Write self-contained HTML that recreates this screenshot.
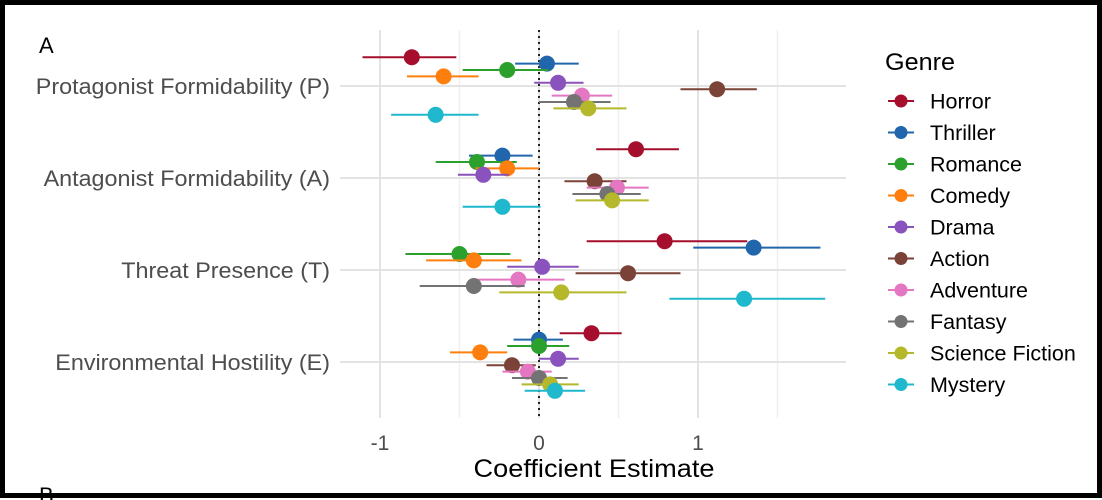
<!DOCTYPE html>
<html><head><meta charset="utf-8"><style>
html,body{margin:0;padding:0;background:#fff}
svg{display:block;font-family:"Liberation Sans",Arial,sans-serif}
</style></head><body>
<svg width="1102" height="500" viewBox="0 0 1102 500">
<rect x="0" y="0" width="1102" height="500" fill="#fff"/>
<g id="grid"></g>
<g id="ylabels"></g>
<g id="xticks"></g>
<line x1="539" y1="30" x2="539" y2="418" stroke="#222" stroke-width="2" stroke-dasharray="2,4"/>
<g id="marks"></g>
<g id="legend">
<text x="885" y="70" font-size="24" textLength="70" lengthAdjust="spacingAndGlyphs" fill="#000">Genre</text>
</g>
<text x="594" y="477" font-size="25" textLength="241" lengthAdjust="spacingAndGlyphs" fill="#000" text-anchor="middle">Coefficient Estimate</text>
<text x="39" y="53" font-size="22" fill="#000">A</text>
<text x="39" y="503" font-size="22" fill="#000">B</text>
<rect x="2.5" y="2.5" width="1097" height="493" fill="none" stroke="#000" stroke-width="5"/>
</svg>
<script>
const categories = ["Protagonist Formidability (P)","Antagonist Formidability (A)","Threat Presence (T)","Environmental Hostility (E)"];
const genres = ["Horror","Thriller","Romance","Comedy","Drama","Action","Adventure","Fantasy","Science Fiction","Mystery"];
const colors = ["#a50f2d","#2166ac","#2ca02c","#ff7f0e","#8a52bd","#7b4238","#e377c2","#737373","#b5b82a","#1fb8cc"];
const xTicks = [-1,0,1];
const xTickLabels = ["-1","0","1"];
const est = [
 [-0.80,0.05,-0.20,-0.60,0.12,1.12,0.27,0.22,0.31,-0.65],
 [0.61,-0.23,-0.39,-0.20,-0.35,0.35,0.49,0.43,0.46,-0.23],
 [0.79,1.35,-0.50,-0.41,0.02,0.56,-0.13,-0.41,0.14,1.29],
 [0.33,0.00,0.00,-0.37,0.12,-0.17,-0.07,0.00,0.07,0.10]
];
const lo = [
 [-1.11,-0.15,-0.48,-0.83,-0.03,0.89,0.08,0.00,0.09,-0.93],
 [0.36,-0.44,-0.65,-0.40,-0.51,0.16,0.30,0.21,0.23,-0.48],
 [0.30,0.97,-0.84,-0.71,-0.20,0.23,-0.43,-0.75,-0.25,0.82],
 [0.13,-0.16,-0.20,-0.56,0.00,-0.33,-0.23,-0.17,-0.11,-0.09]
];
const hi = [
 [-0.52,0.25,0.06,-0.38,0.28,1.37,0.46,0.45,0.55,-0.38],
 [0.88,-0.04,-0.14,0.00,-0.19,0.55,0.69,0.64,0.69,0.01],
 [1.31,1.77,-0.18,-0.11,0.25,0.89,0.16,-0.09,0.55,1.80],
 [0.52,0.15,0.19,-0.20,0.25,-0.02,0.08,0.18,0.25,0.29]
];
const NS="http://www.w3.org/2000/svg";
function mk(t,a,p){const e=document.createElementNS(NS,t);for(const k in a)e.setAttribute(k,a[k]);p.appendChild(e);return e;}
const X = v => 539 + v*159;
const Y = (ci,gi) => 86 + ci*92 + (gi-4.5)*6.4;
const grid=document.getElementById('grid');
[-1,-0.5,0,0.5,1,1.5].forEach(v=>{
 const l=mk('line',{x1:X(v),x2:X(v),y1:30,y2:418,stroke:v%1===0?'#e3e3e3':'#efefef','stroke-width':v%1===0?2:1.5},grid);
 
 
});
const yl=document.getElementById('ylabels');
categories.forEach((c,ci)=>{
 const y=86+ci*92;
 const l=mk('line',{x1:340,x2:846,y1:y,y2:y,stroke:'#e3e3e3','stroke-width':2},grid);
 
 
 const t=mk('text',{x:330,y:y+8,'font-size':22,fill:'#4d4d4d','text-anchor':'end'},yl);
 t.textContent=c;
 
 
 const w=t.getComputedTextLength();
 t.setAttribute('textLength', (w*1.06).toFixed(1));
 t.setAttribute('lengthAdjust','spacingAndGlyphs');
});
const xt=document.getElementById('xticks');
xTicks.forEach((v,i)=>{
 const t=mk('text',{x:X(v),y:450,'font-size':21,fill:'#4d4d4d','text-anchor':'middle'},xt);
 t.textContent=xTickLabels[i];
 
 
});
const marks=document.getElementById('marks');
categories.forEach((c,ci)=>{
 genres.forEach((g,gi)=>{
  const y=Y(ci,gi);
  const l=mk('line',{x1:X(lo[ci][gi]),x2:X(hi[ci][gi]),y1:y,y2:y,stroke:colors[gi],'stroke-width':2},marks);
  
  
  const d=mk('circle',{cx:X(est[ci][gi]),cy:y,r:8,fill:colors[gi]},marks);
  
  
 });
});
const lg=document.getElementById('legend');
genres.forEach((g,gi)=>{
 const y=101+gi*31.5;
 const gg=mk('g',{},lg);
 
 
 mk('line',{x1:888,x2:914,y1:y,y2:y,stroke:colors[gi],'stroke-width':2},gg);
 mk('circle',{cx:901,cy:y,r:6.5,fill:colors[gi]},gg);
 const t=mk('text',{x:930,y:y+7.5,'font-size':21.5,fill:'#000'},gg);
 t.textContent=g;
});
</script>
</body></html>
